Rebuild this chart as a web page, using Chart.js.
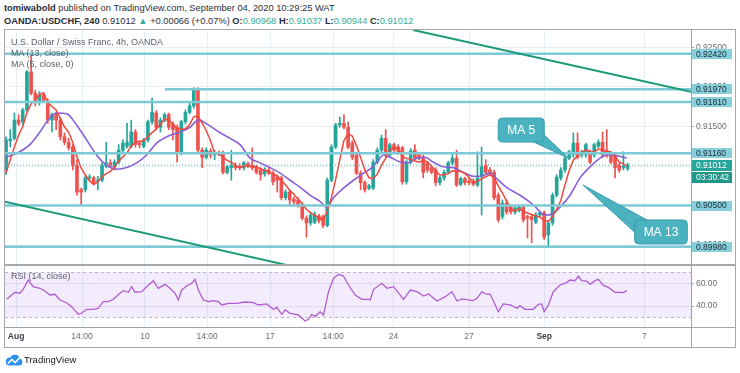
<!DOCTYPE html>
<html>
<head>
<meta charset="utf-8">
<script src="https://cdn.jsdelivr.net/npm/chart.js@4.4.1/dist/chart.umd.min.js"></script>
<style>
  html, body { margin: 0; padding: 0; background: #fff; }
  body { width: 740px; height: 373px; position: relative; overflow: hidden;
         font-family: "Liberation Sans", Arial, sans-serif; color: #2a2e39; }
  .t { position: absolute; white-space: nowrap; line-height: 12px; }
  .g { color: #2fae9f; }
  .leg { color: #5d606b; font-size: 9px; }
  #frame { position: absolute; left: 4px; top: 29px; width: 732px; height: 319px;
           border: 1px solid #a4a7ae; box-sizing: border-box; }
  canvas { position: absolute; }
  .rule { position: absolute; background: #a4a7ae; }
</style>
</head>
<body>
<div class="t" style="left:4px;top:2px;font-size:9.3px"><b>tomiwabold</b> published on TradingView.com, September 04, 2020 10:29:25 WAT</div>
<div class="t" style="left:4px;top:15px;font-size:9.3px"><b>OANDA:USDCHF, 240</b> 0.91012 <span class="g">&#9650;</span> +0.00066 (+0.07%) <b>O:</b><span class="g">0.90968</span> <b>H:</b><span class="g">0.91037</span> <b>L:</b><span class="g">0.90944</span> <b>C:</b><span class="g">0.91012</span></div>

<div id="frame"></div>
<canvas id="main" width="730" height="234" style="left:5px;top:30px;width:730px;height:234px"></canvas>
<div class="rule" style="left:5px;top:264px;width:730px;height:2px"></div>
<canvas id="rsi" width="730" height="81" style="left:5px;top:266px;width:730px;height:81px"></canvas>
<div class="rule" style="left:691px;top:327px;width:44px;height:1px"></div>
<div class="rule" style="left:691px;top:327px;width:1px;height:20px"></div>

<div class="t leg" style="left:11px;top:36px">U.S. Dollar / Swiss Franc, 4h, OANDA</div>
<div class="t leg" style="left:11px;top:47px">MA (13, close)</div>
<div class="t leg" style="left:11px;top:58px">MA (5, close, 0)</div>
<div class="t leg" style="left:11px;top:270px">RSI (14, close)</div>

<svg style="position:absolute;left:5px;top:354px" width="18" height="12" viewBox="0 0 18 12">
  <path d="M4 11.5 H14 A3.6 3.6 0 0 0 14.6 4.4 A5 5 0 0 0 5.2 3.6 A4 4 0 0 0 4 11.5 Z" fill="#2d8ff0"/>
  <polyline points="3,9.5 7,5.5 10,8.5 15,3.5" stroke="#fff" stroke-width="1.6" fill="none"/>
</svg>
<div class="t" style="left:24px;top:354px;font-size:9.5px;color:#131722">TradingView</div>

<script>
// 4h candles, bar 0 = first candle on screen (Jul 31), one bar per 4 hours of trading
const open = [
  0.9095, 0.9132, 0.9135, 0.9158, 0.9156, 0.9171, 0.9219, 0.9192, 0.9180, 0.9190,
  0.9182, 0.9158, 0.9165, 0.9158, 0.9137, 0.9130, 0.9124, 0.9101, 0.9070, 0.9070,
  0.9085, 0.9085, 0.9081, 0.9082, 0.9100, 0.9104, 0.9099, 0.9105, 0.9120, 0.9125,
  0.9125, 0.9143, 0.9129, 0.9125, 0.9133, 0.9156, 0.9167, 0.9149, 0.9158, 0.9165,
  0.9153, 0.9149, 0.9116, 0.9156, 0.9168, 0.9176, 0.9196, 0.9120, 0.9111, 0.9119,
  0.9114, 0.9116, 0.9116, 0.9092, 0.9098, 0.9101, 0.9100, 0.9098, 0.9103, 0.9101,
  0.9099, 0.9095, 0.9090, 0.9095, 0.9091, 0.9086, 0.9085, 0.9060, 0.9067, 0.9058,
  0.9057, 0.9051, 0.9034, 0.9028, 0.9029, 0.9037, 0.9036, 0.9025, 0.9082, 0.9124,
  0.9152, 0.9154, 0.9149, 0.9129, 0.9114, 0.9091, 0.9079, 0.9072, 0.9072, 0.9105,
  0.9120, 0.9135, 0.9114, 0.9127, 0.9124, 0.9123, 0.9080, 0.9105, 0.9120, 0.9114,
  0.9111, 0.9104, 0.9098, 0.9095, 0.9079, 0.9085, 0.9092, 0.9104, 0.9110, 0.9077,
  0.9084, 0.9081, 0.9081, 0.9076, 0.9086, 0.9101, 0.9095, 0.9092, 0.9063, 0.9036,
  0.9053, 0.9048, 0.9042, 0.9044, 0.9048, 0.9036, 0.9036, 0.9029, 0.9038, 0.9041,
  0.9013, 0.9028, 0.9063, 0.9085, 0.9095, 0.9110, 0.9114, 0.9129, 0.9114, 0.9114,
  0.9118, 0.9114, 0.9125, 0.9130, 0.9120, 0.9114, 0.9114, 0.9101, 0.9098, 0.90968
];
const high = [
  0.9137, 0.9146, 0.9167, 0.9165, 0.9173, 0.9221, 0.9240, 0.9196, 0.9194, 0.9192,
  0.9185, 0.9167, 0.9167, 0.9161, 0.9142, 0.9135, 0.9127, 0.9108, 0.9072, 0.9087,
  0.9089, 0.9087, 0.9087, 0.9104, 0.9130, 0.9108, 0.9108, 0.9127, 0.9133, 0.9154,
  0.9158, 0.9146, 0.9132, 0.9135, 0.9158, 0.9186, 0.9170, 0.9161, 0.9167, 0.9167,
  0.9156, 0.9152, 0.9158, 0.9171, 0.9180, 0.9199, 0.9199, 0.9123, 0.9123, 0.9122,
  0.9120, 0.9119, 0.9119, 0.9101, 0.9120, 0.9104, 0.9103, 0.9106, 0.9105, 0.9123,
  0.9101, 0.9098, 0.9098, 0.9098, 0.9094, 0.9089, 0.9087, 0.9070, 0.9070, 0.9061,
  0.9060, 0.9053, 0.9037, 0.9041, 0.9042, 0.9039, 0.9038, 0.9085, 0.9127, 0.9154,
  0.9162, 0.9165, 0.9156, 0.9132, 0.9116, 0.9094, 0.9081, 0.9077, 0.9108, 0.9123,
  0.9139, 0.9146, 0.9129, 0.9129, 0.9127, 0.9125, 0.9108, 0.9122, 0.9127, 0.9116,
  0.9114, 0.9106, 0.9100, 0.9098, 0.9087, 0.9095, 0.9106, 0.9116, 0.9120, 0.9086,
  0.9086, 0.9084, 0.9084, 0.9118, 0.9124, 0.9108, 0.9098, 0.9095, 0.9066, 0.9057,
  0.9057, 0.9051, 0.9050, 0.9051, 0.9051, 0.9038, 0.9038, 0.9041, 0.9043, 0.9043,
  0.9031, 0.9066, 0.9089, 0.9098, 0.9113, 0.9120, 0.9142, 0.9142, 0.9120, 0.9129,
  0.9120, 0.9129, 0.9133, 0.9143, 0.9146, 0.9116, 0.9116, 0.9104, 0.9118, 0.91037
];
const low = [
  0.9089, 0.9124, 0.9133, 0.9151, 0.9152, 0.9168, 0.9190, 0.9176, 0.9177, 0.9180,
  0.9154, 0.9143, 0.9146, 0.9133, 0.9127, 0.9120, 0.9095, 0.9063, 0.9051, 0.9067,
  0.9082, 0.9076, 0.9070, 0.9080, 0.9098, 0.9098, 0.9095, 0.9103, 0.9118, 0.9123,
  0.9123, 0.9124, 0.9123, 0.9123, 0.9130, 0.9153, 0.9146, 0.9143, 0.9156, 0.9146,
  0.9133, 0.9105, 0.9114, 0.9153, 0.9166, 0.9173, 0.9118, 0.9098, 0.9109, 0.9110,
  0.9108, 0.9113, 0.9090, 0.9090, 0.9082, 0.9095, 0.9095, 0.9095, 0.9098, 0.9095,
  0.9090, 0.9082, 0.9087, 0.9089, 0.9076, 0.9067, 0.9057, 0.9057, 0.9051, 0.9052,
  0.9048, 0.9032, 0.9010, 0.9025, 0.9027, 0.9028, 0.9022, 0.9023, 0.9080, 0.9122,
  0.9149, 0.9147, 0.9122, 0.9108, 0.9089, 0.9070, 0.9067, 0.9070, 0.9070, 0.9103,
  0.9118, 0.9111, 0.9111, 0.9118, 0.9115, 0.9077, 0.9077, 0.9103, 0.9108, 0.9108,
  0.9085, 0.9092, 0.9090, 0.9075, 0.9076, 0.9082, 0.9090, 0.9101, 0.9074, 0.9075,
  0.9076, 0.9076, 0.9075, 0.9074, 0.9038, 0.9090, 0.9089, 0.9057, 0.9029, 0.9033,
  0.9039, 0.9039, 0.9039, 0.9042, 0.9029, 0.9009, 0.9003, 0.9027, 0.9036, 0.9007,
  0.8998, 0.9025, 0.9061, 0.9082, 0.9092, 0.9108, 0.9111, 0.9109, 0.9111, 0.9111,
  0.9103, 0.9111, 0.9123, 0.9111, 0.9111, 0.9103, 0.9085, 0.9092, 0.9095, 0.90944
];
const close = [
  0.9133, 0.9134, 0.9158, 0.9154, 0.9171, 0.9219, 0.9192, 0.9180, 0.9190, 0.9183,
  0.9158, 0.9165, 0.9158, 0.9137, 0.9130, 0.9123, 0.9101, 0.9067, 0.9067, 0.9085,
  0.9086, 0.9079, 0.9082, 0.9101, 0.9104, 0.9100, 0.9105, 0.9120, 0.9129, 0.9130,
  0.9143, 0.9127, 0.9127, 0.9133, 0.9156, 0.9168, 0.9149, 0.9158, 0.9165, 0.9149,
  0.9146, 0.9116, 0.9156, 0.9168, 0.9176, 0.9196, 0.9120, 0.9111, 0.9120, 0.9114,
  0.9116, 0.9115, 0.9092, 0.9099, 0.9101, 0.9098, 0.9098, 0.9104, 0.9100, 0.9098,
  0.9092, 0.9089, 0.9095, 0.9091, 0.9080, 0.9082, 0.9060, 0.9067, 0.9057, 0.9055,
  0.9051, 0.9034, 0.9028, 0.9038, 0.9038, 0.9031, 0.9025, 0.9082, 0.9124, 0.9152,
  0.9154, 0.9149, 0.9124, 0.9111, 0.9091, 0.9079, 0.9070, 0.9075, 0.9105, 0.9120,
  0.9135, 0.9114, 0.9127, 0.9120, 0.9118, 0.9080, 0.9105, 0.9119, 0.9110, 0.9110,
  0.9092, 0.9095, 0.9092, 0.9079, 0.9085, 0.9092, 0.9104, 0.9110, 0.9076, 0.9084,
  0.9079, 0.9079, 0.9077, 0.9085, 0.9099, 0.9092, 0.9091, 0.9060, 0.9032, 0.9053,
  0.9042, 0.9042, 0.9047, 0.9048, 0.9032, 0.9034, 0.9032, 0.9038, 0.9041, 0.9010,
  0.9028, 0.9063, 0.9086, 0.9095, 0.9110, 0.9118, 0.9129, 0.9111, 0.9118, 0.9127,
  0.9105, 0.9127, 0.9130, 0.9114, 0.9114, 0.9105, 0.9098, 0.9095, 0.9100, 0.91012
];

// MA(5) for the first four bars (window reaches back off screen)
const ma5Lead = [0.9091, 0.9108, 0.9124, 0.9139];

// MA(13): bar position and value
const ma13Bar = [
  0.1, 3.3, 5.7, 8.1, 10.5, 12.1, 14.5, 16.9, 19.3, 21.7, 24.1, 26.5, 28.9, 31.3, 33.7,
  36.1, 39.3, 41.7, 44.1, 46.1, 48.5, 51.3, 53.7, 56.1, 58.5, 60.9, 63.3, 65.7, 68.1,
  70.5, 72.9, 75.3, 76.9, 78.5, 80.9, 83.3, 85.7, 87.7, 88.9, 90.5, 92.1, 94.5, 96.4,
  98.5, 100.5, 102.4, 104.8, 107.2, 109.6, 112, 113.6, 116.1, 117.2, 120, 123.2, 126.4,
  129.2, 130.8, 132.8, 135.2, 137.6, 140, 142.4, 144, 146.4, 148.8
];
const ma13Val = [
  0.9111, 0.9118, 0.9127, 0.9143, 0.9161, 0.9167, 0.9166, 0.9152, 0.9133, 0.9114, 0.9101,
  0.9096, 0.9098, 0.9104, 0.9114, 0.9129, 0.9139, 0.9143, 0.9149, 0.9158, 0.9152, 0.9142,
  0.9135, 0.9127, 0.9110, 0.9104, 0.9098, 0.9091, 0.9082, 0.9073, 0.9063, 0.9055, 0.9048,
  0.9060, 0.9072, 0.9082, 0.9091, 0.9098, 0.9105, 0.9114, 0.9111, 0.9105, 0.9104, 0.9110,
  0.9111, 0.9105, 0.9099, 0.9098, 0.9092, 0.9087, 0.9087, 0.9091, 0.9086, 0.9073, 0.9063,
  0.9051, 0.9038, 0.9039, 0.9048, 0.9063, 0.9085, 0.9099, 0.9110, 0.9114, 0.9113, 0.9110
];

// RSI(14)
const rsiBar = [
  0.15, 2.1, 3.3, 4.1, 5.3, 6.5, 8.1, 9.3, 10.5, 11.7, 12.9, 14.5, 15.7, 17.3, 18.1, 19.3,
  20.9, 22.1, 23.3, 24.5, 25.7, 27.3, 28.1, 29.3, 30.1, 30.9, 32.5, 33.7, 35.3, 36.5, 38.1,
  39.3, 40.5, 41.3, 42.1, 43.3, 44.5, 45.3, 46.1, 47.3, 48.5, 49.7, 50.9, 51.7, 53.3, 55.3,
  57.3, 59.3, 60.5, 62.5, 63.3, 64.1, 64.9, 66.1, 66.9, 68.1, 70.1, 71.7, 72.5, 73.3, 74.1,
  75.3, 76.1, 77.3, 78.5, 79.7, 80.9, 82.1, 83.7, 85.3, 86.9, 87.3, 88.1, 90.1, 91.3, 92.9,
  95.3, 96.9, 98.5, 100.1, 101.3, 103.3, 105.3, 106.9, 108.1, 109.3, 112.0, 112.9, 114.1,
  114.9, 116.1, 118.0, 119.2, 120.9, 122.5, 123.2, 124.4, 126.4, 127.6, 128.4, 129.0, 130.0,
  131.2, 132.8, 134.4, 135.2, 136.4, 137.2, 138.0, 139.2, 140.0, 141.2, 142.0, 143.2, 144.4,
  146.0, 148.0, 148.8
];
const rsiVal = [
  45.9, 52.1, 51.2, 54.7, 62.9, 57, 55.6, 53.2, 49.7, 50.3, 45.3, 42.9, 39.4, 32.7, 33.6, 37.1,
  37.1, 38, 43.8, 43.8, 45.9, 51.2, 53.5, 52.1, 57, 52.1, 52.6, 57, 62.3, 55.6, 59.1,
  55.6, 51.2, 45.3, 54.1, 57.6, 60, 63.5, 54.1, 45.3, 43.8, 44.7, 43.8, 40.9, 42.4, 42.4,
  43.5, 42.9, 40.9, 41.8, 39.4, 37.1, 38.8, 32.7, 36.5, 33.6, 32.1, 26.8, 28.5, 32.7, 30.7,
  35, 32.1, 52.6, 64.4, 67.9, 66.4, 58.5, 49.7, 45.9, 45.9, 45.3, 54.7, 60, 55.6, 57,
  45.9, 54.1, 52.6, 48.8, 50.6, 44.4, 48.2, 52.6, 44.4, 46.2, 44.7, 46.8, 52.6,
  50.6, 50.3, 35, 41.8, 40.9, 38, 40.3, 37.1, 37.1, 41.5, 41.8, 35, 40.9,
  52.6, 58.5, 60.6, 62.9, 62.3, 66.4, 62.3, 62, 59.1, 62.3, 63.5, 58.2, 56.4,
  52.1, 51.8, 53.5
];
const rsiBand = [30, 70];

// drawn support / resistance levels and where each one starts
const levels = [0.9242, 0.9197, 0.9181, 0.9116, 0.9050, 0.8998];
const levelFrom = [null, 38.1, null, null, null, null];
// trend lines: [bar, price] end points
const upperTrend = [[97.6, 0.9272], [164.2, 0.9194]];
const lowerTrend = [[-0.3, 0.9055], [73.0, 0.8968]];

// time axis
const xTickBar = [2.4, 18.2, 33.3, 48.2, 63.3, 78.4, 92.9, 111, 129, 153];
const xTickLabel = ['Aug', '14:00', '10', '14:00', '17', '14:00', '24', '27', 'Sep', '7'];
const priceTicks = [0.900, 0.905, 0.910, 0.915, 0.920, 0.925];
const rsiTicks = [40, 60];
const countdown = '03:30:42';

const callouts = [
  { text: 'MA 5', bar: 123.5, price: 0.91455, tipBar: 134.8, tipPrice: 0.91101, tail: 'bottomRight' },
  { text: 'MA 13', bar: 157.0, price: 0.90166, tipBar: 138.3, tipPrice: 0.90760, tail: 'topLeft' }
];

const xMin = -0.26, xMax = 164.2;
const yMin = 0.89761, yMax = 0.92720;
const rsiMin = 21.5, rsiMax = 75.24;

const FONT = '"Liberation Sans", Arial, sans-serif';
const UP = '#26a69a', DOWN = '#ef5350';
const MA5C = '#f1483d', MA13C = '#8a5fd6', RSIC = '#b05cd0';
const GRID = '#e8eff4', AXIS = '#9ea1a8';
const LEVEL = '#7ccad6', TREND = '#1d9b78';

const bars = close.map((_, k) => k);
const lastClose = close[close.length - 1];
const colors = bars.map(k => close[k] >= open[k] ? UP : DOWN);
const ma5 = bars.map(k => k < 4 ? ma5Lead[k]
  : close.slice(k - 4, k + 1).reduce((a, b) => a + b, 0) / 5);

const flatLine = (extra) => Object.assign({ type: 'line', pointRadius: 0, fill: false, tension: 0 }, extra);

// keep the plot area flush with the canvas edges (no room reserved for edge labels)
const noPad = s => { s.paddingTop = 0; s.paddingBottom = 0; s.paddingLeft = 0; s.paddingRight = 0; };

function roundRect(ctx, x, y, w, h, r) {
  ctx.beginPath();
  ctx.moveTo(x + r, y);
  ctx.arcTo(x + w, y, x + w, y + h, r);
  ctx.arcTo(x + w, y + h, x, y + h, r);
  ctx.arcTo(x, y + h, x, y, r);
  ctx.arcTo(x, y, x + w, y, r);
  ctx.closePath();
}

// price tags on the right axis + the two MA callouts
const overlay = {
  id: 'overlay',
  afterDraw(chart) {
    const { ctx, scales: { x, y } } = chart;
    const left = y.left + 1, w = 40;
    ctx.save();
    ctx.font = '8.5px ' + FONT;
    ctx.textBaseline = 'middle';
    const tag = (txt, py, h, bg, fg) => {
      ctx.fillStyle = bg;
      ctx.fillRect(left, Math.round(py - h / 2), w, h);
      ctx.fillStyle = fg;
      ctx.fillText(txt, left + 4, py + 0.5);
    };
    levels.forEach(v => tag(v.toFixed(5), y.getPixelForValue(v), 10, '#86cfdb', '#1e2a33'));
    const py = y.getPixelForValue(lastClose);
    tag(lastClose.toFixed(5), py, 11, '#26a69a', '#fff');
    tag(countdown, py + 12.5, 11, '#1e978a', '#fff');

    ctx.font = '12px ' + FONT;
    ctx.textAlign = 'center';
    callouts.forEach(c => {
      const cx = x.getPixelForValue(c.bar), cy = y.getPixelForValue(c.price);
      const bw = ctx.measureText(c.text).width + 18, bh = 24;
      const bx = cx - bw / 2, by = cy - bh / 2;
      const tx = x.getPixelForValue(c.tipBar), ty = y.getPixelForValue(c.tipPrice);
      ctx.fillStyle = '#4ab3bf';
      ctx.strokeStyle = '#3a9eab';
      ctx.lineWidth = 1;
      ctx.beginPath();
      if (c.tail === 'bottomRight') {
        ctx.moveTo(bx + bw - 15, by + bh - 2);
        ctx.lineTo(bx + bw - 2, by + bh - 9);
      } else {
        ctx.moveTo(bx + 2, by + 14);
        ctx.lineTo(bx + 16, by + 2);
      }
      ctx.lineTo(tx, ty);
      ctx.closePath();
      ctx.fill();
      ctx.stroke();
      roundRect(ctx, bx, by, bw, bh, 4);
      ctx.fill();
      ctx.stroke();
      ctx.fillStyle = '#fff';
      ctx.fillText(c.text, cx, cy + 1);
    });
    ctx.restore();
  }
};

const xScaleBase = {
  type: 'linear', min: xMin, max: xMax, offset: false,
  grid: { color: GRID, drawTicks: false, offset: false },
  afterBuildTicks: s => { s.ticks = xTickBar.map(v => ({ value: v })); }
};

new Chart(document.getElementById('main'), {
  type: 'bar',
  data: {
    datasets: [
      { type: 'bar', data: bars.map(k => ({ x: k, y: [low[k], high[k]] })),
        backgroundColor: colors, barThickness: 1, grouped: false, order: 9 },
      { type: 'bar', data: bars.map(k => ({ x: k, y: [open[k], close[k]] })),
        backgroundColor: colors, barThickness: 3, minBarLength: 1, grouped: false, order: 8 },
      flatLine({ data: ma13Bar.map((b, i) => ({ x: b, y: ma13Val[i] })), borderColor: MA13C,
        borderWidth: 1.6, cubicInterpolationMode: 'monotone', order: 7 }),
      flatLine({ data: bars.map(k => ({ x: k, y: ma5[k] })), borderColor: MA5C,
        borderWidth: 1.5, order: 6 }),
      flatLine({ data: [{ x: xMin, y: lastClose }, { x: xMax, y: lastClose }], borderColor: '#4fb5ab',
        borderWidth: 1, borderDash: [1, 2], order: 5 }),
      ...levels.map((v, i) => flatLine({
        data: [{ x: levelFrom[i] ?? xMin, y: v }, { x: xMax, y: v }],
        borderColor: LEVEL, borderWidth: 2.5, order: 2 })),
      flatLine({ data: upperTrend.map(p => ({ x: p[0], y: p[1] })), borderColor: TREND, borderWidth: 2, order: 1, clip: 0 }),
      flatLine({ data: lowerTrend.map(p => ({ x: p[0], y: p[1] })), borderColor: TREND, borderWidth: 2, order: 1, clip: 0 })
    ]
  },
  options: {
    responsive: false, animation: false, devicePixelRatio: 1, events: [],
    layout: { padding: 0 },
    plugins: { legend: { display: false }, tooltip: { enabled: false } },
    scales: {
      x: Object.assign({}, xScaleBase, {
        ticks: { display: false }, border: { display: false },
        afterFit: s => { s.height = 0; noPad(s); }
      }),
      y: {
        position: 'right', min: yMin, max: yMax,
        grid: { color: GRID, tickLength: 3, tickColor: AXIS },
        border: { color: AXIS },
        ticks: { font: { family: FONT, size: 8.5 }, color: '#6a6d78', padding: 2,
                 callback: v => v.toFixed(5) },
        afterBuildTicks: s => { s.ticks = priceTicks.map(v => ({ value: v })); },
        afterFit: s => { s.width = 44; noPad(s); }
      }
    }
  },
  plugins: [overlay]
});

// RSI band between 30 and 70
const band = {
  id: 'band',
  beforeDatasetsDraw(chart) {
    const { ctx, chartArea: { left, right }, scales: { y } } = chart;
    const yTop = y.getPixelForValue(rsiBand[1]), yBot = y.getPixelForValue(rsiBand[0]);
    ctx.save();
    ctx.fillStyle = 'rgba(160, 95, 235, 0.12)';
    ctx.fillRect(left, yTop, right - left, yBot - yTop);
    ctx.strokeStyle = '#b9b3c2';
    ctx.lineWidth = 1;
    ctx.setLineDash([3, 3]);
    [yTop, yBot].forEach(py => {
      ctx.beginPath();
      ctx.moveTo(left, Math.round(py) + 0.5);
      ctx.lineTo(right, Math.round(py) + 0.5);
      ctx.stroke();
    });
    ctx.restore();
  }
};

new Chart(document.getElementById('rsi'), {
  type: 'line',
  data: {
    datasets: [
      flatLine({ data: rsiBar.map((b, i) => ({ x: b, y: rsiVal[i] })), borderColor: RSIC, borderWidth: 1.3 })
    ]
  },
  options: {
    responsive: false, animation: false, devicePixelRatio: 1, events: [],
    layout: { padding: 0 },
    plugins: { legend: { display: false }, tooltip: { enabled: false } },
    scales: {
      x: Object.assign({}, xScaleBase, {
        border: { color: AXIS },
        ticks: {
          autoSkip: false, maxRotation: 0, padding: 5,
          font: c => ({ family: FONT, size: 8.5, weight: /^[A-Z]/.test(xTickLabel[c.index]) ? 'bold' : 'normal' }),
          color: c => /^[A-Z]/.test(xTickLabel[c.index]) ? '#3c3f48' : '#6a6d78',
          callback: (v, i) => xTickLabel[i]
        },
        afterFit: s => { s.height = 20; noPad(s); }
      }),
      y: {
        position: 'right', min: rsiMin, max: rsiMax,
        grid: { color: 'rgba(150, 110, 200, 0.18)', tickLength: 3, tickColor: AXIS },
        border: { color: AXIS },
        ticks: { font: { family: FONT, size: 8.5 }, color: '#6a6d78', padding: 2,
                 callback: v => v.toFixed(2) },
        afterBuildTicks: s => { s.ticks = rsiTicks.map(v => ({ value: v })); },
        afterFit: s => { s.width = 44; noPad(s); }
      }
    }
  },
  plugins: [band]
});
</script>
</body>
</html>
